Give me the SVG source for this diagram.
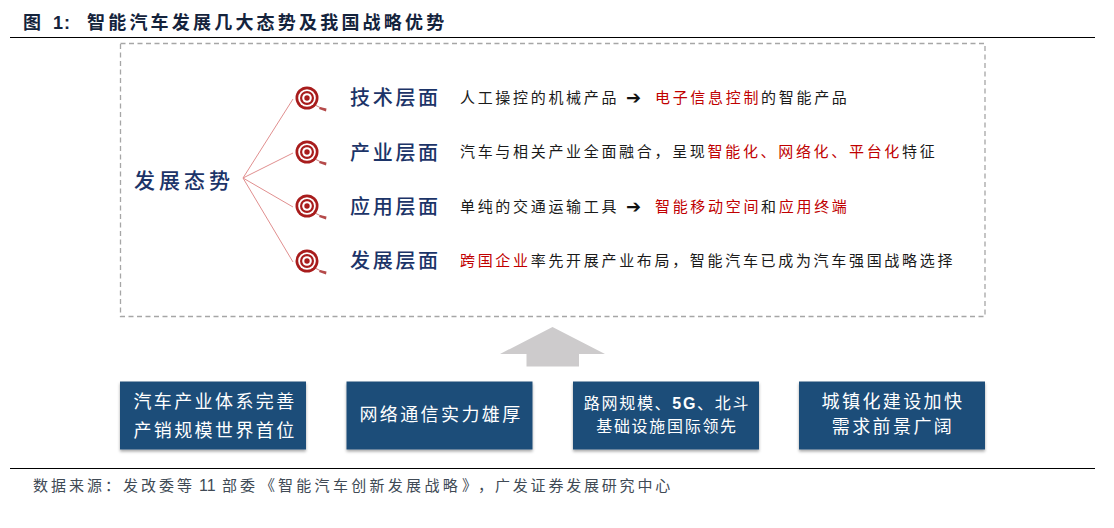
<svg xmlns="http://www.w3.org/2000/svg" width="1114" height="528" viewBox="0 0 1114 528">
<style>
text{font-family:"Noto Sans CJK SC","Liberation Sans",sans-serif}
.title{font-size:18px;font-weight:700;fill:#14233c;letter-spacing:3.2px}
.lat{font-family:"Liberation Sans",sans-serif;font-weight:700}
.head{font-size:20px;fill:#1c3468;letter-spacing:2.7px;font-weight:500}
.desc{font-size:15px;fill:#1a1a1a;letter-spacing:2.68px}
.red{fill:#c00000}
.box{fill:#1f4e79;filter:url(#sh)}
.bt{font-size:18px;fill:#fff;letter-spacing:2.4px;text-anchor:middle}
.bs{font-size:16px;fill:#fff;letter-spacing:1.7px;text-anchor:middle}
.link{stroke:#e08f8f;stroke-width:1;fill:none}
.rule{stroke:#000;stroke-width:1.2}
.foot{font-size:15px;fill:#404a55;letter-spacing:3px}
</style>
<defs>
<filter id="sh" x="-5%" y="-5%" width="110%" height="120%"><feDropShadow dx="0" dy="2" stdDeviation="1.5" flood-color="#000" flood-opacity=".35"/></filter>
<g id="target">
<path d="M8 7L19 12.500" stroke="#c98080" stroke-width="1"/>
<path d="M13 9L19.500 10.500L19 13.500L12 11Z" fill="#b54a4a"/>
<circle r="11.500" fill="#a81c1c"/><circle r="8.800" fill="#fff"/><circle r="7" fill="#a81c1c"/><circle r="4.800" fill="#fff"/><circle r="2.700" fill="#a81c1c"/>
</g>
</defs>
<g id="title">
<text class="title" x="23" y="29">图</text>
<text class="title lat" x="53" y="29" style="letter-spacing:1px">1:</text>
<text class="title" x="87" y="29">智能汽车发展几大态势及我国战略优势</text>
</g>
<line class="rule" x1="10" y1="37.500" x2="1095" y2="37.500"/>
<g id="panel"><rect x="120.500" y="43.500" width="864.500" height="273" fill="#fff" stroke="#a6a6a6" stroke-width="1.300" stroke-dasharray="5 3.500"/></g>
<g id="connectors">
<path class="link" d="M243 178L293 99M243 178L293 153M243 178L293 207M243 178L293 262"/>
</g>
<g id="root"><text x="134" y="188" style="font-size:21px;fill:#1c3468;letter-spacing:4px;font-weight:500">发展态势</text></g>
<g id="row1"><use href="#target" x="307" y="98"/><text class="head" x="350" y="105">技术层面</text>
<text class="desc" x="460" y="103">人工操控的机械产品</text><text x="626" y="104" style="font-family:'DejaVu Sans',sans-serif;font-size:18px;fill:#111">➔</text><text class="desc" x="655" y="103"><tspan class="red">电子信息控制</tspan>的智能产品</text></g>
<g id="row2"><use href="#target" x="307" y="152"/><text class="head" x="350" y="160">产业层面</text>
<text class="desc" x="460" y="157">汽车与相关产业全面融合，呈现<tspan class="red">智能化、网络化、平台化</tspan>特征</text></g>
<g id="row3"><use href="#target" x="307" y="206"/><text class="head" x="350" y="214">应用层面</text>
<text class="desc" x="460" y="212">单纯的交通运输工具</text><text x="626" y="213" style="font-family:'DejaVu Sans',sans-serif;font-size:18px;fill:#111">➔</text><text class="desc" x="655" y="212"><tspan class="red">智能移动空间</tspan>和<tspan class="red">应用终端</tspan></text></g>
<g id="row4"><use href="#target" x="307" y="261"/><text class="head" x="350" y="268">发展层面</text>
<text class="desc" x="460" y="266"><tspan class="red">跨国企业</tspan>率先开展产业布局，智能汽车已成为汽车强国战略选择</text></g>
<g id="arrow"><path d="M552.500 327L605 354H579V366.500H526.500V354H500Z" fill="#cdcbcc"/></g>
<g id="box1"><rect class="box" x="120" y="381.500" width="186" height="68"/><text class="bt" x="215" y="408">汽车产业体系完善</text><text class="bt" x="215" y="437">产销规模世界首位</text></g>
<g id="box2"><rect class="box" x="346.500" y="381.500" width="186" height="68"/><text class="bt" x="441" y="421">网络通信实力雄厚</text></g>
<g id="box3"><rect class="box" x="573" y="381.500" width="186" height="68"/><text class="bs" x="667" y="409">路网规模、<tspan class="lat">5G</tspan>、北斗</text><text class="bs" x="667" y="432">基础设施国际领先</text></g>
<g id="box4"><rect class="box" x="799" y="381.500" width="186" height="68"/><text class="bt" x="893" y="408">城镇化建设加快</text><text class="bt" x="893" y="433">需求前景广阔</text></g>
<line class="rule" x1="10" y1="468.500" x2="1095" y2="468.500"/>
<g id="source">
<text class="foot" x="33" y="491">数据来源：发改委等</text>
<text class="foot" x="199" y="491" style="font-family:'Liberation Sans',sans-serif;font-size:16px;letter-spacing:0">11</text>
<text class="foot" x="222" y="491">部委</text>
<text class="foot" x="260" y="491" style="letter-spacing:0">《</text>
<text class="foot" x="278" y="491" style="letter-spacing:3.3px">智能汽车创新发展战略</text>
<text class="foot" x="462" y="491" style="letter-spacing:0">》</text>
<text class="foot" x="478" y="491" style="letter-spacing:0">，</text>
<text class="foot" x="495" y="491" style="letter-spacing:2.800px">广发证券发展研究中心</text>
</g>
</svg>
